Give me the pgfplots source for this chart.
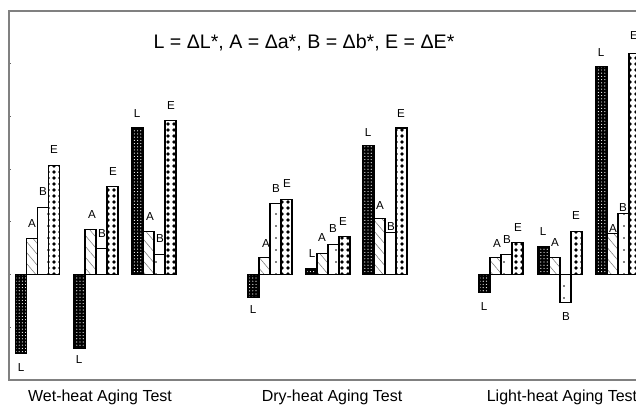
\documentclass[border=0pt]{standalone}
\usepackage{fontspec}
\setmainfont{Liberation Sans}
\usepackage{pgfplots}
\usepackage{pgfplotstable}
\pgfplotsset{compat=1.18}
\usetikzlibrary{patterns.meta}

% x = pixel position of bar centre, y = value (1 unit per tick)
\pgfplotstableread{
x y
21.0 -1.50
79.5 -1.41
137.5 2.78
253.5 -0.43
311.5 0.11
368.5 2.45
484.5 -0.34
543.5 0.53
601.5 3.94
}\dataL
\pgfplotstableread{
x y
32.0 0.68
90.5 0.86
148.5 0.82
264.5 0.33
322.5 0.40
379.5 1.06
495.5 0.32
554.5 0.32
612.5 0.78
}\dataA
\pgfplotstableread{
x y
43.0 1.27
101.5 0.49
159.5 0.38
275.5 1.35
333.5 0.57
390.5 0.80
506.5 0.38
565.5 -0.53
623.5 1.16
}\dataB
\pgfplotstableread{
x y
54.0 2.07
112.5 1.67
170.5 2.93
286.5 1.43
344.5 0.72
401.5 2.78
517.5 0.61
576.5 0.82
634.5 4.20
}\dataE
\pgfplotstableread{
x y lab
21 -1.76 L
32 0.97 A
43 1.57 B
54 2.37 E
79 -1.61 L
92 1.14 A
102 0.78 B
113 1.95 E
137 3.06 L
150 1.10 A
160 0.68 B
171 3.21 E
253 -0.66 L
266 0.59 A
276 1.63 B
287 1.73 E
312 0.40 L
322 0.70 A
333 0.87 B
343 1.01 E
368 2.69 L
380 1.31 A
391 0.91 B
401 3.06 E
484 -0.61 L
497 0.59 A
507 0.66 B
518 0.89 E
543 0.82 L
555 0.61 A
566 -0.80 B
576 1.12 E
601 4.21 L
613 0.87 A
623 1.27 B
634 4.54 E
}\labels

\begin{document}
\begin{tikzpicture}[x=1pt,y=1pt]
\useasboundingbox (0,0) rectangle (318,203);
\clip (0,0) rectangle (318,203);
\begin{axis}[
  scale only axis,
  width=325.5pt, height=184.5pt,
  anchor=south west, at={(4.5pt,13pt)},
  xmin=9, xmax=660, ymin=-2, ymax=5,
  xtick=\empty, ytick={-1,0,1,2,3,4}, yticklabel=\empty,
  ytick pos=left,
  tick align=inside, major tick length=1.2pt,
  tick style={black!60, line width=0.5pt},
  axis line style={black!50, line width=0.6pt},
  clip=false,
  mybar/.style={ybar, bar width=11, bar shift=0pt, draw=black, line width=0.55pt},
]
\addplot[mybar, fill=black, postaction={pattern={Dots[distance=1.6pt, radius=0.3pt]}, pattern color=white}] table[x=x,y=y] {\dataL};
\addplot[mybar, fill=white, postaction={pattern={Lines[angle=-50, distance=3.5pt, line width=0.25pt]}, pattern color=black!55}] table[x=x,y=y] {\dataA};
\addplot[mybar, fill=white, postaction={pattern={Dots[distance=6pt, radius=0.45pt]}, pattern color=black}] table[x=x,y=y] {\dataB};
\addplot[mybar, fill=white, postaction={pattern={Dots[distance=3pt, radius=0.9pt]}, pattern color=black}] table[x=x,y=y] {\dataE};
\addplot[draw=none, nodes near coords, point meta=explicit symbolic,
  nodes near coords align=center,
  every node near coord/.append style={font=\fontsize{5.8}{7}\selectfont, inner sep=0pt, anchor=center}]
  table[x=x,y=y,meta=lab] {\labels};
\node[font=\fontsize{9.8}{11}\selectfont] at (axis cs:304,4.40) {L = ΔL*, A = Δa*, B = Δb*, E = ΔE*};
\node[font=\fontsize{8}{9.6}\selectfont] at (axis cs:100,-2.33) {Wet-heat Aging Test};
\node[font=\fontsize{8}{9.6}\selectfont] at (axis cs:332,-2.33) {Dry-heat Aging Test};
\node[font=\fontsize{8}{9.6}\selectfont] at (axis cs:562,-2.33) {Light-heat Aging Test};
\end{axis}
\end{tikzpicture}
\end{document}
